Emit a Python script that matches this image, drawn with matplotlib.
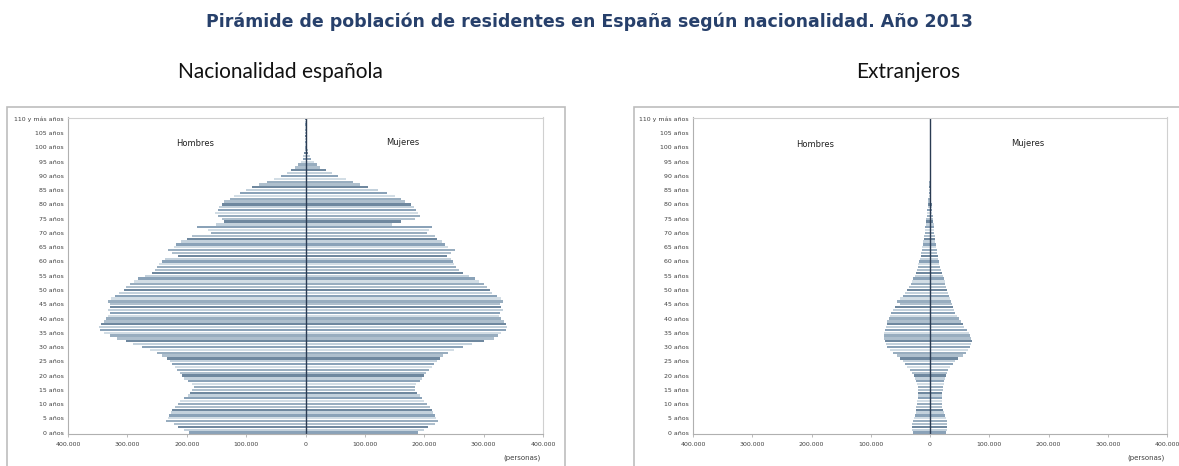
import numpy as np
import matplotlib
matplotlib.use("Agg")
import matplotlib.pyplot as plt
from matplotlib.patches import Rectangle

# population by single year of age 0..110 (thousands of persons)
edades = list(range(111))

hombres_esp = [
    197, 205, 215, 222, 235, 232, 230, 226, 224, 220,
    215, 212, 205, 198, 195, 192, 188, 192, 198, 205,
    208, 212, 216, 220, 224, 228, 234, 242, 250, 262,
    275, 290, 303, 318, 330, 340, 346, 348, 345, 340,
    336, 333, 330, 332, 330, 330, 332, 328, 320, 314,
    306, 302, 295, 288, 282, 270, 258, 254, 250, 246,
    242, 236, 215, 225, 232, 222, 218, 210, 200, 192,
    160, 165, 182, 150, 138, 140, 147, 152, 148, 145,
    140, 137, 128, 120, 110, 100, 90, 78, 65, 53,
    42, 32, 24, 17, 12, 8, 5, 3.5, 2.5, 1.5,
    1.0, 0.6, 0.4, 0.3, 0.2, 0.1, 0.1, 0.05, 0.05, 0.05, 0.05]

mujeres_esp = [
    190, 200, 207, 218, 223, 220, 218, 215, 213, 210,
    205, 200, 196, 192, 188, 185, 184, 186, 192, 196,
    200, 203, 208, 213, 217, 221, 226, 232, 240, 250,
    265, 280, 300, 318, 325, 330, 338, 340, 338, 334,
    330, 326, 328, 332, 330, 328, 333, 330, 322, 314,
    310, 305, 300, 292, 285, 275, 265, 258, 254, 250,
    248, 245, 238, 245, 252, 240, 235, 230, 222, 218,
    205, 208, 213, 145, 160, 185, 192, 190, 186, 182,
    178, 168, 160, 150, 138, 122, 105, 92, 80, 68,
    55, 44, 35, 25, 19, 14, 10, 7, 5, 3.5,
    2.5, 1.5, 1.0, 0.6, 0.4, 0.2, 0.1, 0.1, 0.05, 0.05, 0.05]

hombres_ext = [
    28, 30, 31, 30, 29, 27, 25, 24, 23, 23,
    22, 22, 21, 21, 21, 21, 21, 22, 23, 25,
    27, 30, 34, 38, 42, 46, 50, 55, 62, 68,
    72, 74, 76, 77, 77, 77, 76, 75, 73, 72,
    70, 68, 65, 62, 59, 50, 55, 50, 46, 42,
    38, 35, 32, 30, 28, 26, 24, 22, 21, 20,
    18, 17, 16, 15, 14, 13, 12, 11, 10, 9.5,
    9, 8.5, 8, 7, 6.5, 6, 5.5, 5, 4.5, 4,
    3.5, 3, 2.7, 2.3, 2, 1.7, 1.4, 1.1, 0.9, 0.7,
    0.5, 0.4, 0.3, 0.2, 0.15, 0.1, 0.1, 0.05, 0.05, 0.05,
    0.05, 0.0, 0.0, 0.0, 0.0, 0.0, 0.0, 0.0, 0.0, 0.0, 0.0]

mujeres_ext = [
    27, 28, 28, 28, 28, 27, 25, 23, 22, 21,
    21, 21, 21, 21, 21, 22, 22, 23, 24, 25,
    27, 28, 30, 34, 38, 43, 48, 55, 60, 64,
    67, 70, 71, 70, 68, 65, 62, 58, 55, 52,
    49, 46, 43, 41, 39, 37, 35, 34, 32, 30,
    28, 27, 26, 25, 24, 22, 20, 18, 17, 16,
    15, 14, 13, 12, 11, 10, 9.5, 9, 8.5, 8,
    7.5, 7, 6.5, 6, 5.5, 5, 4.5, 4, 3.6, 3.2,
    2.8, 2.5, 2.2, 1.9, 1.6, 1.3, 1.1, 0.9, 0.7, 0.5,
    0.4, 0.3, 0.25, 0.2, 0.15, 0.1, 0.1, 0.05, 0.05, 0.05,
    0.05, 0.0, 0.0, 0.0, 0.0, 0.0, 0.0, 0.0, 0.0, 0.0, 0.0]

tick_vals = [-400000, -300000, -200000, -100000, 0, 100000, 200000, 300000, 400000]
tick_txt = ["400.000", "300.000", "200.000", "100.000", "0",
            "100.000", "200.000", "300.000", "400.000"]
edad_ticks = list(range(0, 111, 5))
edad_txt = ["%d años" % e for e in range(0, 110, 5)] + ["110 y más años"]

shades = ["#8aa2b8", "#c3d1dc", "#6f889f", "#aebfcd", "#98adbf", "#d2dde5"]

W, H = 1179, 466
fig = plt.figure(figsize=(W / 100, H / 100), dpi=100)


def fx(px):
    return px / W


def fy(py):
    return 1 - py / H


# outer chart frames
fig.patches.append(Rectangle((fx(7), fy(470)), fx(558), fy(107) - fy(470),
                             transform=fig.transFigure, fill=False,
                             ec="#bdbdbd", lw=1.2))
fig.patches.append(Rectangle((fx(634), fy(470)), fx(560), fy(107) - fy(470),
                             transform=fig.transFigure, fill=False,
                             ec="#bdbdbd", lw=1.2))

fig.text(0.5, fy(22), "Pirámide de población de residentes en España según nacionalidad. Año 2013",
         ha="center", va="center", fontsize=12.5, color="#27406b",
         family="DejaVu Sans", weight="bold")
fig.text(fx(280), fy(72), "Nacionalidad española", ha="center", va="center",
         fontsize=15, family="Lato", color="#111111")
fig.text(fx(908), fy(72), "Extranjeros", ha="center", va="center",
         fontsize=15, family="Lato", color="#111111")


def pyramid(left_px, right_px, hombres, mujeres, pos_h, pos_m):
    ax = fig.add_axes([fx(left_px), fy(434), fx(right_px - left_px), fy(117.5) - fy(434)])
    cols = [shades[i % len(shades)] for i in edades]
    ax.barh(edades, [-v * 1000 for v in hombres], height=0.8, color=cols, lw=0)
    ax.barh(edades, [v * 1000 for v in mujeres], height=0.8, color=cols, lw=0)
    ax.axvline(0, color="#2a3b52", lw=1.0)
    ax.set_xlim(-400000, 400000)
    ax.set_ylim(-0.5, 110.5)
    ax.set_xticks(tick_vals)
    ax.set_xticklabels(tick_txt)
    ax.set_yticks(edad_ticks)
    ax.set_yticklabels(edad_txt)
    ax.tick_params(axis="x", labelsize=4.5, length=2, width=0.5, color="#a0a0a0",
                   pad=4, labelcolor="#404040")
    ax.tick_params(axis="y", labelsize=4.5, length=0, pad=3, labelcolor="#404040")
    for s in ax.spines.values():
        s.set_color("#d0d0d0")
        s.set_linewidth(0.8)
    ax.spines["left"].set_color("#b0b0b0")
    ax.spines["bottom"].set_color("#b0b0b0")
    ax.text(pos_h[0], pos_h[1], "Hombres", transform=ax.transAxes,
            fontsize=6, ha="center", va="center", color="#222222")
    ax.text(pos_m[0], pos_m[1], "Mujeres", transform=ax.transAxes,
            fontsize=6, ha="center", va="center", color="#222222")
    ax.text(0.995, -0.075, "(personas)", transform=ax.transAxes,
            fontsize=5, ha="right", va="center", color="#404040")
    return ax


pyramid(68, 543, hombres_esp, mujeres_esp, (0.268, 0.918), (0.705, 0.921))
pyramid(693, 1167, hombres_ext, mujeres_ext, (0.257, 0.915), (0.707, 0.918))

fig.savefig("out.png", dpi=100)
